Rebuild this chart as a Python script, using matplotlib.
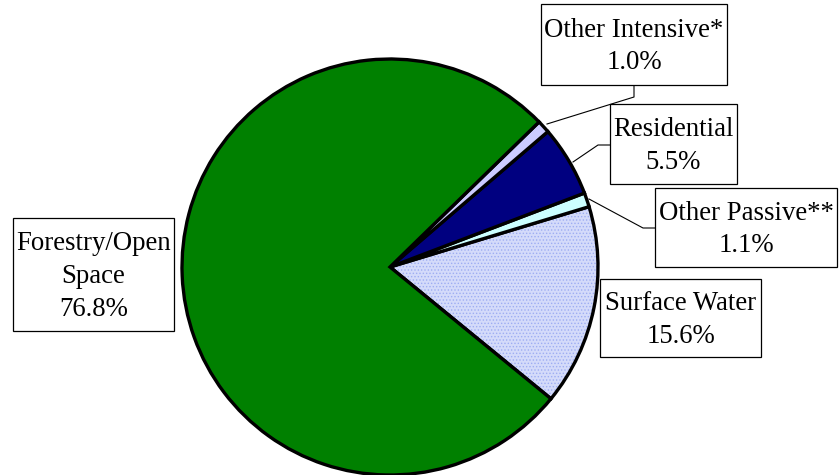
import matplotlib.pyplot as plt
from matplotlib.patches import Rectangle

plt.rcParams['font.family'] = ['Liberation Serif', 'DejaVu Serif']
plt.rcParams['hatch.linewidth'] = 0.6

# land use shares (percent), counter-clockwise from surface water
categories = ["Surface Water", "Other Passive**", "Residential", "Other Intensive*", "Forestry/Open\nSpace"]
shares = [15.6, 1.1, 5.5, 1.0, 76.8]
colors = ["#d4dbfa", "#ccffff", "#000080", "#ccccff", "#008000"]

W, H = 839, 475
fig = plt.figure(figsize=(W / 100, H / 100), dpi=100)
ax = fig.add_axes([0, 0, 1, 1])

cx, cy, r = 390, H - 267, 208
wedges, _ = ax.pie(shares, colors=colors, startangle=-39.3, counterclock=True,
                   center=(cx, cy), radius=r, frame=True,
                   wedgeprops=dict(edgecolor='black', linewidth=2.4))
ax.set_xlim(0, W)
ax.set_ylim(0, H)
ax.set_aspect('equal')
ax.axis('off')
# dotted fill on surface water
wedges[0].set_hatch('.....')
wedges[0]._hatch_color = (0.62, 0.68, 0.95, 1.0)

# label boxes: (x0, y0, x1, y1) in pixels from the top
boxes = [(600, 279, 761, 357), (655, 188, 837, 267), (610, 104, 737, 184),
         (541, 4, 727, 85), (13, 218, 174, 331)]
# leader lines from box to wedge
leaders = [None,
           [(655, 228), (643, 228), (589, 199)],
           [(610, 145), (598, 145), (573, 162)],
           [(634, 85), (634, 97), (547, 124)],
           None]

for cat, val, (x0, y0, x1, y1), lead in zip(categories, shares, boxes, leaders):
    ax.add_patch(Rectangle((x0, H - y1), x1 - x0, y1 - y0, facecolor='white',
                           edgecolor='black', linewidth=0.9, zorder=3))
    ax.text((x0 + x1) / 2, H - (y0 + y1) / 2 - 2, f"{cat}\n{val:.1f}%", ha='center',
            va='center', fontsize=19.3, linespacing=1.4, zorder=4)
    if lead:
        xs = [p[0] for p in lead]
        ys = [H - p[1] for p in lead]
        ax.plot(xs, ys, color='black', linewidth=0.8, zorder=2)

fig.savefig('out.png', dpi=100)
